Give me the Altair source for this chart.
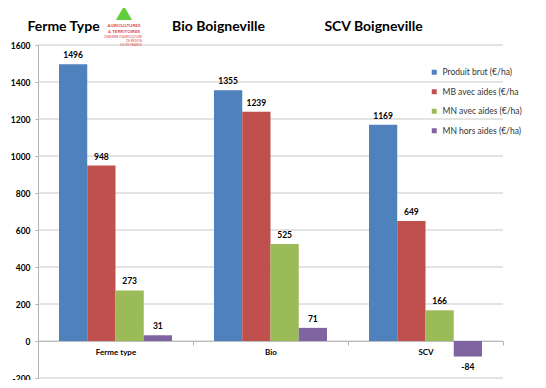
import altair as alt
import pandas as pd

categories = ["Ferme type", "Bio", "SCV"]
series = ["Produit brut (€/ha)", "MB avec aides (€/ha", "MN avec aides (€/ha)", "MN hors aides (€/ha)"]
produit_brut = [1496, 1355, 1169]
mb_avec_aides = [948, 1239, 649]
mn_avec_aides = [273, 525, 166]
mn_hors_aides = [31, 71, -84]
colors = ["#4F81BD", "#C0504D", "#9BBB59", "#8064A2"]
group_titles = ["Ferme Type", "Bio Boigneville", "SCV Boigneville"]
logo_big_lines = ["AGRICULTURES", "& TERRITOIRES"]
logo_small_lines = ["CHAMBRE D'AGRICULTURE", "DE RÉGION", "ILE-DE-FRANCE"]
y_ticks = list(range(-200, 1601, 200))

rows = []
for s, vals in zip(series, [produit_brut, mb_avec_aides, mn_avec_aides, mn_hors_aides]):
    for c, v in zip(categories, vals):
        rows.append({"cat": c, "serie": s, "value": v, "label": str(v)})
df = pd.DataFrame(rows)

FONT = "Lato"
W, H = 465, 333
TOP = 37

x_axis = alt.Axis(title=None, labelAngle=0, labelFont=FONT, labelFontSize=8,
                  labelFontWeight="bold", labelColor="#000000",
                  domainColor="#b0b0b0", tickColor="#b0b0b0", tickSize=4,
                  tickBand="extent", labelPadding=3,
                  offset=-H * 200 / 1800)
y_axis = alt.Axis(title=None, values=y_ticks, format="d",
                  labelExpr="replace(datum.label, '\u2212', '-')",
                  labelOverlap=False, labelFont=FONT, labelFontSize=8.5,
                  labelFontWeight="bold", labelColor="#000000",
                  domainColor="#b0b0b0", tickColor="#b0b0b0", tickSize=3,
                  labelPadding=5, grid=False)
x_scale = alt.Scale(paddingInner=0, paddingOuter=0)
y_scale = alt.Scale(domain=[-200, 1600], nice=False)
off_scale = alt.Scale(paddingInner=0, paddingOuter=0.743)


def enc_x():
    return alt.X("cat:N", sort=categories, scale=x_scale, axis=x_axis)


def enc_off():
    return alt.XOffset("serie:N", sort=series, scale=off_scale)


def enc_y():
    return alt.Y("value:Q", scale=y_scale, axis=y_axis)


grid = alt.Chart(pd.DataFrame({"value": y_ticks})).mark_rule(
    color="#c8c8c8", strokeWidth=1
).encode(y=enc_y())

bars = alt.Chart(df).mark_bar().encode(
    x=enc_x(), xOffset=enc_off(), y=enc_y(),
    color=alt.Color("serie:N", sort=series, scale=alt.Scale(domain=series, range=colors),
                    legend=alt.Legend(title=None, orient="none", legendX=392, legendY=23,
                                      symbolType="square", symbolSize=25, symbolStrokeWidth=0,
                                      labelFont=FONT, labelFontSize=8.5, labelColor="#333333",
                                      rowPadding=10.5)),
)

pos_labels = alt.Chart(df).transform_filter("datum.value >= 0").mark_text(
    baseline="bottom", dy=-4, font=FONT, fontSize=8.5, fontWeight="bold", color="#000000"
).encode(x=enc_x(), xOffset=enc_off(), y=enc_y(), text="label:N")

neg_labels = alt.Chart(df).transform_filter("datum.value < 0").mark_text(
    baseline="top", dy=6, font=FONT, fontSize=8.5, fontWeight="bold", color="#000000"
).encode(x=enc_x(), xOffset=enc_off(), y=enc_y(), text="label:N")

titles_df = pd.DataFrame({"cat": categories, "title": group_titles})
titles = alt.Chart(titles_df).mark_text(
    font=FONT, fontSize=14, fontWeight="bold", color="#000000", dx=-52
).encode(x=enc_x(), y=alt.value(-18), text="title:N")

one = pd.DataFrame({"a": [1]})
logo_tri = alt.Chart(one).mark_point(
    shape="triangle-up", filled=True, size=260, color="#5fcf3a", opacity=1
).encode(x=alt.value(86), y=alt.value(-32))

logo_big = alt.Chart(one).mark_text(
    font=FONT, fontSize=4.5, fontWeight="bold", color="#e0474c", align="center",
    baseline="middle", lineHeight=6, text=logo_big_lines
).encode(x=alt.value(86), y=alt.value(-19))

logo_small = alt.Chart(one).mark_text(
    font=FONT, fontSize=3, color="#e0474c", align="right",
    baseline="middle", lineHeight=4, text=logo_small_lines
).encode(x=alt.value(104), y=alt.value(-8))

chart = alt.layer(grid, bars, pos_labels, neg_labels, titles, logo_tri, logo_big, logo_small).properties(
    width=W, height=H,
    autosize=alt.AutoSizeParams(type="none"),
    padding={"left": 30, "top": TOP, "right": 35, "bottom": 372 - TOP - H},
).configure_view(stroke=None)

chart.save("out.html", embed_options={"renderer": "svg", "actions": False})
